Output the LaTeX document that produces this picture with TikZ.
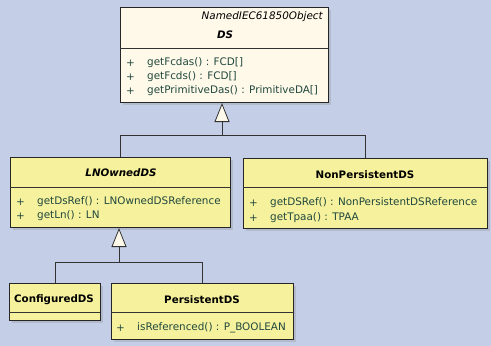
\documentclass[tikz,border=0pt]{standalone}
\usepackage{fontspec}
\setmainfont{DejaVu Sans}
\usetikzlibrary{arrows.meta,shadows}
\definecolor{bgblue}{RGB}{196,206,230}
\definecolor{dsfill}{RGB}{255,249,234}
\definecolor{clsfill}{RGB}{246,241,156}
\definecolor{methtext}{RGB}{32,72,62}

\begin{document}
\begin{tikzpicture}[x=1pt,y=-1pt,
  cls/.style={draw=black!85, line width=1pt, fill=clsfill, anchor=north west, inner sep=0pt,
    drop shadow={shadow xshift=2pt, shadow yshift=-2pt, opacity=0.25}},
  title/.style={font=\bfseries\fontsize{10.3}{11}\selectfont, inner sep=0pt},
  meth/.style={font=\fontsize{10.4}{11}\selectfont, text=methtext, anchor=west, inner sep=0pt},
  gen/.style={draw=black!80, line width=0.8pt, -{Triangle[width=15pt,length=19pt,fill=dsfill]}}]
\useasboundingbox (0,0) rectangle (491,346);
\fill[bgblue] (0,0) rectangle (491,346);

% classes
\node[cls, fill=dsfill, minimum width=208pt, minimum height=95pt](ds) at (120,7){};
\node[cls, minimum width=220pt, minimum height=70pt](lnowned) at (10,157){};
\node[cls, minimum width=244pt, minimum height=70pt](nonpers) at (243,158){};
\node[cls, minimum width=91pt, minimum height=37pt](configured) at (9,283){};
\node[cls, minimum width=182pt, minimum height=56pt](pers) at (111,283){};

\draw[black!80] (120,48) -- (328,48);
\draw[black!80] (10,187) -- (230,187);
\draw[black!80] (243,187) -- (487,187);
\draw[black!80] (9,312) -- (100,312);
\draw[black!80] (111,312) -- (293,312);

% names
\node[font=\itshape\fontsize{10.4}{11}\selectfont, anchor=east, inner sep=0pt](stereo) at (323,17){NamedIEC61850Object};
\node[title, font=\bfseries\itshape\fontsize{10.3}{11}\selectfont](dsname) at (225,35){DS};
\node[title, font=\bfseries\itshape\fontsize{10.3}{11}\selectfont](lnname) at (121,173){LNOwnedDS};
\node[title](npname) at (365,175){NonPersistentDS};
\node[title](cfname) at (54,300){ConfiguredDS};
\node[title](psname) at (202,300){PersistentDS};

% operations
\node[meth](p1) at (126,63){+};
\node[meth](m1) at (147,63){getFcdas() : FCD[]};
\node[meth](p2) at (126,77){+};
\node[meth](m2) at (147,77){getFcds() : FCD[]};
\node[meth](p3) at (126,91){+};
\node[meth](m3) at (147,91){getPrimitiveDas() : PrimitiveDA[]};
\node[meth](p4) at (16,202){+};
\node[meth](m4) at (37,202){getDsRef() : LNOwnedDSReference};
\node[meth](p5) at (16,216){+};
\node[meth](m5) at (37,216){getLn() : LN};
\node[meth](p6) at (249,203){+};
\node[meth](m6) at (270,203){getDSRef() : NonPersistentDSReference};
\node[meth](p7) at (249,218){+};
\node[meth](m7) at (270,218){getTpaa() : TPAA};
\node[meth](p8) at (116,328){+};
\node[meth](m8) at (137,328){isReferenced() : P\_BOOLEAN};

% generalizations
\coordinate(j1) at (222,135);
\coordinate(j2) at (119,262);
\draw[black!80, line width=0.8pt] (lnowned.north) |- (nonpers.north |- j1) -- (nonpers.north);
\draw[gen] (j1) -- (j1 |- ds.south);
\draw[black!80, line width=0.8pt] (configured.north) |- (pers.north |- j2) -- (pers.north);
\draw[gen] (j2) -- (j2 |- lnowned.south);
\end{tikzpicture}
\end{document}
